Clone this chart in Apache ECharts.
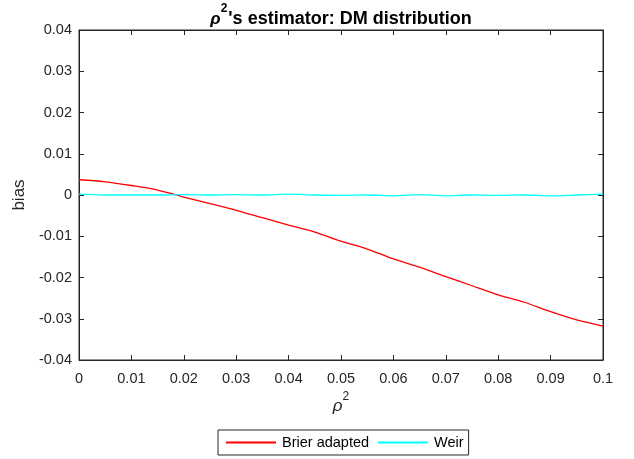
<!DOCTYPE html>
<html><head><meta charset="utf-8">
<script src="https://cdn.jsdelivr.net/npm/echarts@6/dist/echarts.min.js"></script>
<style>html,body{margin:0;padding:0;background:#fff}#c{width:634px;height:459px}</style>
</head><body><div id="c"></div>
<script>
const rho2 = [0,0.005,0.01,0.015,0.02,0.025,0.03,0.035,0.04,0.045,0.05,0.055,0.06,0.065,0.07,0.075,0.08,0.085,0.09,0.095,0.1];
const brier = [0.0037,0.0032,0.0023,0.0012,-0.0005,-0.0021,-0.0037,-0.0055,-0.0073,-0.0090,-0.0112,-0.0131,-0.0155,-0.0175,-0.0198,-0.0220,-0.0242,-0.0260,-0.0283,-0.0303,-0.0318];
const weir = [0.0002,0.0000,0.0000,0.0000,0.0001,0.0000,0.0001,0.0000,0.0002,0.0000,-0.0001,0.0000,-0.0002,0.0001,-0.0002,0.0000,-0.0001,0.0000,-0.0002,0.0000,0.0002];
const xTicks = {min:0,max:0.1,interval:0.01};
const yTicks = {min:-0.04,max:0.04,interval:0.01};
const seriesNames = ['Brier adapted','Weir'];

const font = 'Liberation Sans, Arial, Helvetica, sans-serif';
const txt = '#262626';
const fmt = v => { const r = Math.round(v*1000)/1000; return r === 0 ? '0' : String(r); };
const ax = {onZero:false,lineStyle:{color:txt,width:1}};
const tick = {inside:true,length:5,lineStyle:{color:txt}};
const chart = echarts.init(document.getElementById('c'));
chart.setOption({
  animation:false,
  title:{
    text:'{r|ρ}{s|2}{b|\'s estimator: DM distribution}',
    left:336, top:-2, textAlign:'center',
    textStyle:{rich:{
      r:{fontFamily:font,fontStyle:'italic',fontSize:17,color:'#000',padding:[7,0,0,0]},
      s:{fontFamily:font,fontWeight:'bold',fontSize:12,color:'#000',verticalAlign:'top',padding:[0,1,9,0]},
      b:{fontFamily:font,fontWeight:'bold',fontSize:18,color:'#000',padding:[7,0,0,0]}
    }}
  },
  grid:{left:79,right:31,top:30,bottom:99,show:true,borderColor:txt,borderWidth:1,backgroundColor:'#fff'},
  legend:{
    top:430,left:218,
    data:seriesNames,
    icon:'rect',
    itemWidth:50,itemHeight:2,itemGap:9,
    borderColor:txt,borderWidth:1,borderRadius:0,padding:[5,5,5,8],
    textStyle:{fontFamily:font,fontSize:14.5,color:'#000',padding:[0,0,0,1]}
  },
  xAxis:[
    {type:'value',min:xTicks.min,max:xTicks.max,interval:xTicks.interval,
     name:'{r|ρ}{s|2}',nameLocation:'middle',nameGap:30,
     nameTextStyle:{rich:{r:{fontFamily:font,fontStyle:'italic',fontSize:17,color:txt,padding:[7,0,0,0]},s:{fontFamily:font,fontSize:12,color:txt,verticalAlign:'top',padding:[0,0,9,0]}}},
     axisLine:ax,axisTick:tick,
     axisLabel:{fontFamily:font,fontSize:14.5,color:txt,margin:11,formatter:fmt},
     splitLine:{show:false}},
    {type:'value',position:'top',min:xTicks.min,max:xTicks.max,interval:xTicks.interval,
     axisLine:ax,axisTick:tick,axisLabel:{show:false},splitLine:{show:false}}
  ],
  yAxis:[
    {type:'value',min:yTicks.min,max:yTicks.max,interval:yTicks.interval,
     name:'bias',nameLocation:'middle',nameGap:50,
     nameTextStyle:{fontFamily:font,fontSize:17,color:txt},
     axisLine:ax,axisTick:tick,
     axisLabel:{fontFamily:font,fontSize:14.5,color:txt,margin:7,formatter:fmt},
     splitLine:{show:false}},
    {type:'value',position:'right',min:yTicks.min,max:yTicks.max,interval:yTicks.interval,
     axisLine:ax,axisTick:tick,axisLabel:{show:false},splitLine:{show:false}}
  ],
  series:[
    {name:seriesNames[0],type:'line',smooth:0.3,symbol:'none',color:'#ff0000',lineStyle:{width:1.3,color:'#ff0000'},
     data:rho2.map((x,i)=>[x,brier[i]])},
    {name:seriesNames[1],type:'line',smooth:0.3,symbol:'none',color:'#00ffff',lineStyle:{width:1.3,color:'#00ffff'},
     data:rho2.map((x,i)=>[x,weir[i]])}
  ]
});
</script></body></html>
